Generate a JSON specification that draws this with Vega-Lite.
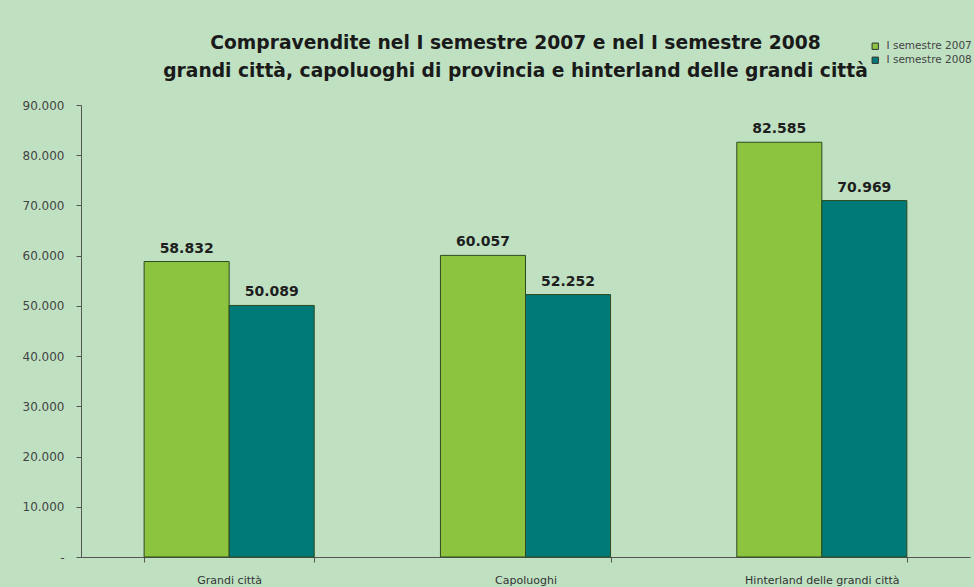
{
  "$schema": "https://vega.github.io/schema/vega-lite/v6.json",
  "autosize": "none",
  "width": 889,
  "height": 452,
  "padding": {"left": 81, "top": 105, "right": 4, "bottom": 30},
  "background": "#bfe1c2",
  "config": {
    "locale": {"number": {"decimal": ",", "thousands": ".", "grouping": [3], "currency": ["€", ""]}},
    "view": {"stroke": null},
    "font": "DejaVu Sans"
  },
  "title": {
    "text": ["Compravendite nel I semestre 2007 e nel I semestre 2008", "grandi città, capoluoghi di provincia e hinterland delle grandi città"],
    "font": "DejaVu Sans",
    "fontSize": 18.7,
    "fontWeight": "bold",
    "color": "#1a1a1a",
    "anchor": "middle",
    "offset": 0,
    "lineHeight": 28,
    "dx": -10,
    "dy": 40
  },
  "data": {
    "values": [
      {"area": "Grandi città", "periodo": "I semestre 2007", "valore": 58832},
      {"area": "Grandi città", "periodo": "I semestre 2008", "valore": 50089},
      {"area": "Capoluoghi", "periodo": "I semestre 2007", "valore": 60057},
      {"area": "Capoluoghi", "periodo": "I semestre 2008", "valore": 52252},
      {"area": "Hinterland delle grandi città", "periodo": "I semestre 2007", "valore": 82585},
      {"area": "Hinterland delle grandi città", "periodo": "I semestre 2008", "valore": 70969}
    ]
  },
  "encoding": {
    "x": {
      "field": "area",
      "type": "nominal",
      "sort": null,
      "scale": {"paddingInner": 0.426, "paddingOuter": 0.213},
      "axis": {
        "title": null,
        "labelAngle": 0,
        "labelFont": "DejaVu Sans",
        "labelFontSize": 11,
        "labelColor": "#333",
        "labelPadding": 12,
        "domainColor": "#555",
        "tickColor": "#555",
        "tickBand": "extent",
        "tickSize": 5,
        "grid": false
      }
    },
    "xOffset": {"field": "periodo", "type": "nominal"},
    "y": {
      "field": "valore",
      "type": "quantitative",
      "scale": {"domain": [0, 90000]},
      "axis": {
        "title": null,
        "tickCount": 9,
        "labelExpr": "datum.value == 0 ? '-' : format(datum.value, ',')",
        "labelFont": "DejaVu Sans",
        "labelFontSize": 12,
        "labelColor": "#444",
        "labelPadding": 12,
        "domainColor": "#555",
        "tickColor": "#555",
        "tickSize": 5,
        "grid": false
      }
    }
  },
  "layer": [
    {
      "mark": {"type": "bar", "stroke": "#2d4a1e", "strokeWidth": 1},
      "encoding": {
        "color": {
          "field": "periodo",
          "type": "nominal",
          "scale": {"range": ["#8cc43f", "#007a78"]},
          "legend": {
            "title": null,
            "orient": "none",
            "legendX": 789,
            "legendY": -64,
            "symbolType": "square",
            "symbolSize": 40,
            "symbolStrokeColor": "#333",
            "symbolStrokeWidth": 1,
            "labelFont": "DejaVu Sans",
            "labelFontSize": 10.5,
            "labelColor": "#444",
            "rowPadding": 3,
            "labelOffset": 6
          }
        }
      }
    },
    {
      "mark": {"type": "text", "dy": -13, "font": "DejaVu Sans", "fontSize": 14, "fontWeight": "bold", "color": "#1e1e1e"},
      "encoding": {
        "text": {"field": "valore", "type": "quantitative", "format": ","}
      }
    }
  ]
}
